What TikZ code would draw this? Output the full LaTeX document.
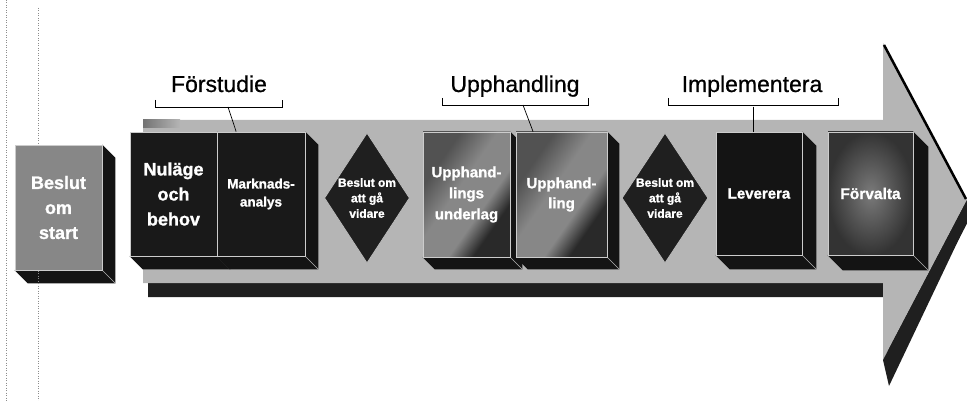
\documentclass[tikz,border=0pt]{standalone}
\usepackage{fontspec}
\setmainfont{Liberation Sans}
\newfontfamily\heavyfont{Liberation Sans}[BoldFeatures={FakeBold=1.2}]
\newfontfamily\phasefont{Liberation Sans}[FakeBold=0.6]
\usetikzlibrary{calc,shapes.geometric}
\pgfdeclarelayer{back}
\pgfdeclarelayer{ext}
\pgfsetlayers{back,ext,main}

\colorlet{bandgray}{black!29}
\colorlet{bandshadow}{black!88}
\colorlet{sidedark}{black!92}
\colorlet{upA}{black!68}
\colorlet{upB}{black!47}
\colorlet{upC}{black!84}
\pgfdeclarehorizontalshading{upphshade}{100bp}{color(0bp)=(upA); color(30bp)=(upA); color(45bp)=(upB); color(60bp)=(upB); color(70bp)=(upC); color(100bp)=(upC)}

% dark right and bottom sides of a block, drawn behind its front face
\newcommand\extrude[2]{%
  \begin{pgfonlayer}{ext}
    \fill[sidedark] (#1.north east) -- ++(#2,#2) -- ($(#1.south east)+(#2,#2)$)
      -- ($(#1.south west)+(#2,#2)$) -- (#1.south west) -- cycle;
    \draw[bevel] (#1.south east) -- ++(#2,#2);
  \end{pgfonlayer}}

\begin{document}
\begin{tikzpicture}[x=1pt,y=-1pt,
  block/.style={rectangle, draw=white!80!black, line width=0.7pt, inner sep=0pt,
    text=white, align=center},
  bsize/.style 2 args={font=\heavyfont\bfseries\fontsize{#1}{#2}\selectfont},
  decision/.style={diamond, draw=white!75!black, line width=0.7pt, inner sep=0pt,
    fill=black!88, minimum width=85pt, minimum height=130pt},
  dtext/.style={text=white, align=center, bsize={12}{15.5}},
  bevel/.style={draw=white!70!black, line width=0.6pt},
  phase/.style={anchor=base, text=black, font=\phasefont\fontsize{23}{26}\selectfont},
  bracket/.style={draw=black, line width=0.7pt},
  guide/.style={draw=black!45, dotted, line width=0.5pt}]

\useasboundingbox (0,0) rectangle (967,401);

% faint vertical guide lines on the page
\draw[guide] (6,0) -- (6,401);
\draw[guide] (38,8) -- (38,401);

% the big process arrow: shadow first, then its light face
\begin{pgfonlayer}{back}
  \fill[bandshadow] (148,134) -- (888,134) -- (888,57) -- (972,214) -- (888,374)
    -- (888,297) -- (148,297) -- cycle;
  \fill[bandgray] (143,120) -- (883,120) -- (883,43) -- (967,200) -- (883,360)
    -- (883,283) -- (143,283) -- cycle;
  % thick dark side under the lower slope of the head
  \fill[bandshadow] (967,200) -- (967,222) -- (889,386) -- (883,360) -- cycle;
  \draw[black, line width=2.5pt] (884,45) -- (966,199);
  \shade[left color=black!55, right color=bandgray] (143,120) rectangle (180,128);
\end{pgfonlayer}

% start decision block
\node[block, fill=black!47, minimum width=87pt, minimum height=125pt,
  bsize={18}{25}] (start) at (58.5,207.5) {Beslut\\om\\start};
\extrude{start}{13}

% pre-study blocks
\node[block, fill=black!90, minimum width=87pt, minimum height=124pt,
  bsize={18}{25}] (nul) at (173.5,194) {Nuläge\\och\\behov};
\extrude{nul}{13}
\node[block, fill=black!90, minimum width=88pt, minimum height=124pt,
  bsize={13.5}{18}] (mark) at (261,194) {Marknads-\\analys};
\extrude{mark}{13}

% first go/no-go decision
\node[decision] (d1) at (367,198) {};
\node[dtext] (d1t) at (d1) {Beslut om\\att gå\\vidare};

% procurement blocks
\node[block, shading=upphshade, shading angle=-35, minimum width=87pt, minimum height=125pt,
  bsize={15}{21}] (uu) at (466.5,194.5) {Upphand-\\lings\\underlag};
\extrude{uu}{12}
\node[block, shading=upphshade, shading angle=-35, minimum width=91pt, minimum height=125pt,
  bsize={15}{20}] (up) at (561.5,194.5) {Upphand-\\ling};
\extrude{up}{12}

% second go/no-go decision
\node[decision, minimum width=86pt] (d2) at (665,198) {};
\node[dtext] (d2t) at (d2) {Beslut om\\att gå\\vidare};

% implementation blocks
\node[block, fill=black!92, minimum width=86pt, minimum height=123pt,
  bsize={15}{18}] (lev) at (759,193.5) {Leverera};
\extrude{lev}{14}
\node[block, inner color=black!52, outer color=black!80, minimum width=85pt, minimum height=123pt,
  bsize={15.5}{18}] (forv) at (870.5,193.5) {Förvalta};
\extrude{forv}{15}

% phase labels with their brackets
\node[phase] (fs) at (219,92) {Förstudie};
\draw[bracket] (155,100) -- (155,107) -- (282,107) -- (282,100);
\coordinate (fsb) at (228,107);
\draw[bracket] (fsb) -- ($(mark.north west)!0.22!(mark.north east)$);

\node[phase] (uph) at (515,92) {Upphandling};
\draw[bracket] (442,98) -- (442,105) -- (588,105) -- (588,98);
\coordinate (uphb) at (523,105);
\draw[bracket] (uphb) -- ($(up.north west)!0.19!(up.north east)$);

\node[phase] (imp) at (752,92) {Implementera};
\draw[bracket] (668,98) -- (668,105) -- (838,105) -- (838,98);
\coordinate (impb) at ($(lev.north west)!0.44!(lev.north east)+(0,-25)$);
\draw[bracket] (impb) -- ($(lev.north west)!0.44!(lev.north east)$);

\end{tikzpicture}
\end{document}
